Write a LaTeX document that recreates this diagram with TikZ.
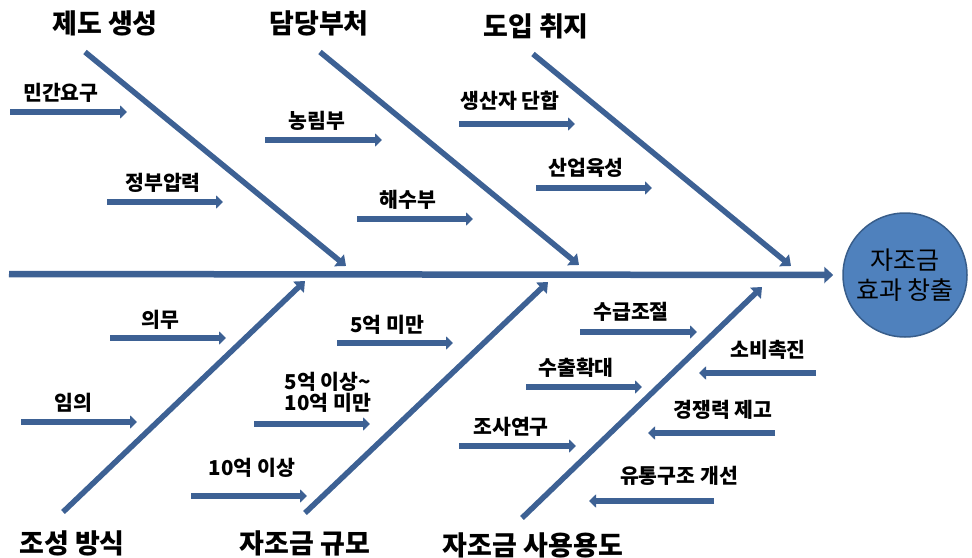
\documentclass[tikz,border=0pt]{standalone}
\usepackage{fontspec}
\newfontfamily\kr{Noto Sans CJK KR}
\usetikzlibrary{arrows.meta}
\definecolor{bone}{RGB}{61,97,148}
\definecolor{goalfill}{RGB}{79,129,189}
\definecolor{goalline}{RGB}{56,93,138}
\begin{document}
\begin{tikzpicture}[x=1pt,y=-1pt,
  cat/.style={font=\kr\bfseries\fontsize{27}{31}\selectfont, inner sep=0pt},
  lab/.style={font=\kr\bfseries\fontsize{20.5}{21}\selectfont, inner sep=0pt, align=center},
  spine/.style={draw=bone, line width=6.5pt, -{Triangle[length=9pt,width=16pt]}},
  bonearrow/.style={draw=bone, line width=5.5pt, -{Triangle[length=9pt,width=15pt]}},
  subarrow/.style={draw=bone, line width=5.5pt, -{Triangle[length=7pt,width=13pt]}},
  goalnode/.style={circle, minimum size=124pt, inner sep=0pt, fill=goalfill, draw=goalline, line width=1.5pt, align=center, font=\kr\fontsize{25}{30}\selectfont},
]
\useasboundingbox (0,0) rectangle (972,557);

% goal and spine
\node[goalnode] (goal) at (905,275) {자조금\\효과 창출};
\coordinate (tail) at (9,274);
\draw[spine, shorten >=9pt] (tail) -- (goal.west);

% category labels
\node[cat] (c1) at (105,23) {제도 생성};
\node[cat] (c2) at (319,23) {담당부처};
\node[cat] (c3) at (536,26) {도입 취지};
\node[cat] (c4) at (72,543) {조성 방식};
\node[cat] (c5) at (305,543) {자조금 규모};
\node[cat] (c6) at (533,545) {자조금 사용용도};

% bones
\coordinate (b1s) at (85,52);   \coordinate (b1e) at (346,266);
\coordinate (b2s) at (320,52);  \coordinate (b2e) at (579,265);
\coordinate (b3s) at (533,54);  \coordinate (b3e) at (791,266);
\coordinate (b4s) at (63,512);  \coordinate (b4e) at (305,281);
\coordinate (b5s) at (305,513); \coordinate (b5e) at (548,282);
\coordinate (b6s) at (522,518); \coordinate (b6e) at (762,287);
\draw[bonearrow] (b1s) -- (b1e);
\draw[bonearrow] (b2s) -- (b2e);
\draw[bonearrow] (b3s) -- (b3e);
\draw[bonearrow] (b4s) -- (b4e);
\draw[bonearrow] (b5s) -- (b5e);
\draw[bonearrow] (b6s) -- (b6e);

% top sub-causes
\node[lab] (l1) at (61,93) {민간요구};
\coordinate (a1s) at (10,112); \coordinate (a1e) at (127,112);
\node[lab] (l2) at (163,183) {정부압력};
\coordinate (a2s) at (107,202); \coordinate (a2e) at (223,202);
\node[lab] (l3) at (317,121) {농림부};
\coordinate (a3s) at (265,140); \coordinate (a3e) at (382,140);
\node[lab] (l4) at (408,200) {해수부};
\coordinate (a4s) at (357,219); \coordinate (a4e) at (473,219);
\node[lab] (l5) at (510,101) {생산자 단합};
\coordinate (a5s) at (459,124); \coordinate (a5e) at (575,124);
\node[lab] (l6) at (586,168) {산업육성};
\coordinate (a6s) at (536,188); \coordinate (a6e) at (652,188);

% bottom sub-causes
\node[lab] (l7) at (160,320) {의무};
\coordinate (a7s) at (110,338); \coordinate (a7e) at (226,338);
\node[lab] (l8) at (73,403) {임의};
\coordinate (a8s) at (21,422); \coordinate (a8e) at (137,422);
\node[lab] (l9) at (387,325) {5억 미만};
\coordinate (a9s) at (337,343); \coordinate (a9e) at (453,343);
\node[lab] (l10) at (328,392) {5억 이상\textasciitilde\\10억 미만};
\coordinate (a10s) at (254,424); \coordinate (a10e) at (370,424);
\node[lab] (l11) at (252,468) {10억 이상};
\coordinate (a11s) at (191,496); \coordinate (a11e) at (307,496);
\node[lab] (l12) at (631,312) {수급조절};
\coordinate (a12s) at (580,332); \coordinate (a12e) at (697,332);
\node[lab] (l13) at (576,368) {수출확대};
\coordinate (a13s) at (526,387); \coordinate (a13e) at (642,387);
\node[lab] (l14) at (511,427) {조사연구};
\coordinate (a14s) at (459,446); \coordinate (a14e) at (576,446);
\node[lab] (l15) at (768,350) {소비촉진};
\coordinate (a15s) at (816,373); \coordinate (a15e) at (699,373);
\node[lab] (l16) at (723,410) {경쟁력 제고};
\coordinate (a16s) at (775,433); \coordinate (a16e) at (648,433);
\node[lab] (l17) at (679,476) {유통구조 개선};
\coordinate (a17s) at (714,501); \coordinate (a17e) at (589,501);

\foreach \i in {1,...,17} {\draw[subarrow] (a\i s) -- (a\i e);}
\end{tikzpicture}
\end{document}
